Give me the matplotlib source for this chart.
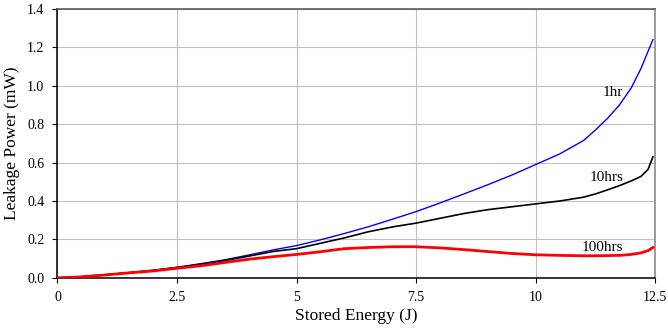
import numpy as np
import matplotlib
matplotlib.use("Agg")
import matplotlib.pyplot as plt

plt.rcParams["font.family"] = ["Liberation Serif", "DejaVu Serif"]

# values
energy = [0, 0.5, 1, 1.5, 2, 2.5, 3, 3.5, 4, 4.5, 5, 5.5, 6, 6.5, 7, 7.5,
          8, 8.5, 9, 9.5, 10, 10.5, 11, 11.25, 11.5, 11.75, 12, 12.2, 12.35, 12.45]

power_1hr = [0, 0.006, 0.016, 0.027, 0.039, 0.055, 0.074, 0.094, 0.119, 0.145,
             0.168, 0.198, 0.231, 0.266, 0.305, 0.345, 0.39, 0.437, 0.485, 0.535,
             0.59, 0.645, 0.715, 0.77, 0.83, 0.9, 0.99, 1.09, 1.18, 1.24]

power_10hrs = [0, 0.006, 0.016, 0.027, 0.039, 0.054, 0.071, 0.09, 0.113, 0.137,
               0.152, 0.18, 0.208, 0.24, 0.265, 0.285, 0.31, 0.335, 0.355, 0.37,
               0.385, 0.40, 0.42, 0.437, 0.458, 0.48, 0.505, 0.528, 0.565, 0.63]

power_100hrs = [0, 0.005, 0.015, 0.026, 0.036, 0.05, 0.063, 0.08, 0.097, 0.11,
                0.122, 0.136, 0.152, 0.158, 0.162, 0.162, 0.156, 0.147, 0.137, 0.127,
                0.12, 0.117, 0.115, 0.115, 0.116, 0.117, 0.122, 0.13, 0.142, 0.158]

x_ticks = [0, 2.5, 5, 7.5, 10, 12.5]
x_tick_labels = ["0", "2.5", "5", "7.5", "10", "12.5"]
y_ticks = [0.0, 0.2, 0.4, 0.6, 0.8, 1.0, 1.2, 1.4]

labels = ["1hr", "10hrs", "100hrs"]
label_y = [0.965, 0.525, 0.16]

fig = plt.figure(figsize=(6.68, 3.30), dpi=100)
ax = fig.add_axes([0.086, 0.158, 0.895, 0.815])

ax.plot(energy, power_1hr, color="#0000ff", lw=1.0, zorder=3)
ax.plot(energy, power_10hrs, color="black", lw=1.2, zorder=4)
ax.plot(energy, power_100hrs, color="#ff0000", lw=2.0, zorder=5)

for text, y in zip(labels, label_y):
    ax.text(11.83, y, text, ha="right", va="center", fontsize=11)

ax.set_xlim(0, 12.5)
ax.set_ylim(0, 1.4)
ax.set_xticks(x_ticks)
ax.set_xticklabels(x_tick_labels)
ax.set_yticks(y_ticks)
ax.set_yticklabels([f"{v:.1f}" for v in y_ticks])

ax.grid(True, color="#c0c0c0", lw=0.8)
ax.set_axisbelow(True)
ax.tick_params(direction="out", length=3.5, width=0.8, labelsize=10, pad=6)

ax.spines["left"].set_color("black")
ax.spines["bottom"].set_color("black")
ax.spines["top"].set_color("#505050")
ax.spines["right"].set_color("#808080")
for s in ax.spines.values():
    s.set_linewidth(1.1)

ax.set_xlabel("Stored Energy (J)", fontsize=12.5, labelpad=3)
ax.set_ylabel("Leakage Power (mW)", fontsize=12.5, labelpad=5)

fig.savefig("out.png", dpi=100)
